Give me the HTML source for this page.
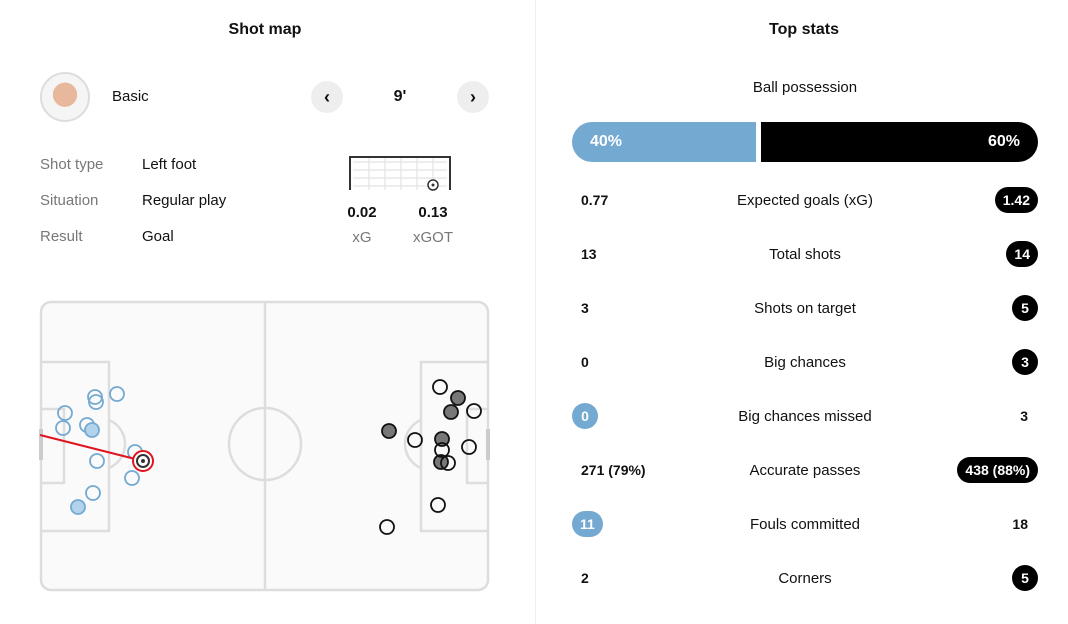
<!DOCTYPE html>
<html><head><meta charset="utf-8"><style>
body{margin:0;width:1068px;height:624px;background:#fff;font-family:"Liberation Sans",sans-serif;color:#111;position:relative;overflow:hidden}
.a{position:absolute;white-space:nowrap}
.t{font-size:16px;font-weight:bold}
.g{color:#777;font-size:15px}
.v{font-size:15px}
.lbl{position:absolute;left:655px;width:300px;text-align:center;font-size:15px}
.lv{position:absolute;left:581px;font-size:14px;font-weight:bold}
.rv{position:absolute;right:30px;font-size:14px;font-weight:bold;text-align:right}
.pill{background:#000;color:#fff;border-radius:14px;height:26px;line-height:26px;padding:0 8px;min-width:10px;text-align:center}
.bp{background:#74a9d1;color:#fff;border-radius:14px;height:26px;line-height:26px;padding:0 8px;text-align:center;min-width:10px}
.nav{position:absolute;width:32px;height:32px;border-radius:16px;background:#eee;text-align:center;line-height:32px;font-weight:bold;font-size:18px}
</style></head><body>
<div class="a" style="left:535px;top:0;width:1px;height:624px;background:#eee"></div>
<div class="a t" style="left:0;width:530px;text-align:center;top:21px">Shot map</div>
<div class="a t" style="left:540px;width:528px;text-align:center;top:21px">Top stats</div>
<div class="a" style="left:40px;top:72px;width:46px;height:46px;border-radius:50%;border:2px solid #ddd;background:radial-gradient(circle at 50% 45%,#e8b89c 0 35%,#f5f5f5 36%)"></div>
<div class="a v" style="left:112px;top:88px">Basic</div>
<div class="nav" style="left:311px;top:81px">‹</div>
<div class="a t" style="left:380px;width:40px;text-align:center;top:88px">9'</div>
<div class="nav" style="left:457px;top:81px">›</div>
<div class="a g" style="left:40px;top:156px">Shot type</div><div class="a v" style="left:142px;top:156px">Left foot</div>
<div class="a g" style="left:40px;top:192px">Situation</div><div class="a v" style="left:142px;top:192px">Regular play</div>
<div class="a g" style="left:40px;top:228px">Result</div><div class="a v" style="left:142px;top:228px">Goal</div>
<svg class="a" style="left:345px;top:152px" width="110" height="42">
<g stroke="#ddd" stroke-width="1" fill="none">
<path d="M8 10H102M8 18H102M8 26H102M8 34H102M24 6V38M40 6V38M56 6V38M72 6V38M88 6V38"/></g>
<path d="M5 38V5H105V38" stroke="#333" stroke-width="2" fill="none"/>
<circle cx="88" cy="33" r="5" fill="#fff" stroke="#333" stroke-width="1.5"/><circle cx="88" cy="33" r="1.5" fill="#333"/>
</svg>
<div class="a t" style="left:332px;width:60px;text-align:center;top:204px;font-size:15px">0.02</div>
<div class="a t" style="left:403px;width:60px;text-align:center;top:204px;font-size:15px">0.13</div>
<div class="a g" style="left:332px;width:60px;text-align:center;top:229px">xG</div>
<div class="a g" style="left:403px;width:60px;text-align:center;top:229px">xGOT</div>
<svg class="a" style="left:0;top:0" width="535" height="624">
<rect x="41" y="302" width="447" height="288" rx="10" fill="#fafafa" stroke="#ddd" stroke-width="2.5"/>
<g stroke="#ddd" stroke-width="2.5" fill="none">
<line x1="265" y1="302" x2="265" y2="590"/>
<circle cx="265" cy="444" r="36"/>
<path d="M41 362H109V531H41M41 409H64V483H41"/>
<path d="M109 420A26 26 0 0 1 109 468"/>
<path d="M488 362H421V531H488M488 409H467V483H488"/>
<path d="M421 420A26 26 0 0 0 421 468"/>
</g>
<rect x="39" y="429" width="4" height="31" fill="#ccc"/><rect x="486" y="429" width="4" height="31" fill="#ccc"/>
<g fill="none" stroke="#74a9d1" stroke-width="1.8">
<circle cx="95" cy="397" r="7"/><circle cx="96" cy="402" r="7"/><circle cx="117" cy="394" r="7"/><circle cx="65" cy="413" r="7"/><circle cx="63" cy="428" r="7"/><circle cx="87" cy="425" r="7"/><circle cx="97" cy="461" r="7"/><circle cx="135" cy="452" r="7"/><circle cx="132" cy="478" r="7"/><circle cx="93" cy="493" r="7"/>
<circle cx="92" cy="430" r="7" fill="#b3d3ec"/><circle cx="78" cy="507" r="7" fill="#b3d3ec"/>
</g>
<line x1="40" y1="435" x2="143" y2="461" stroke="#e0141e" stroke-width="2"/>
<circle cx="143" cy="461" r="10" fill="#fff" stroke="#e0141e" stroke-width="2"/>
<circle cx="143" cy="461" r="6" fill="#fff" stroke="#333" stroke-width="2"/><circle cx="143" cy="461" r="2" fill="#333"/>
<g stroke="#111" stroke-width="1.8" fill="none">
<circle cx="440" cy="387" r="7"/><circle cx="474" cy="411" r="7"/><circle cx="415" cy="440" r="7"/><circle cx="469" cy="447" r="7"/><circle cx="438" cy="505" r="7"/><circle cx="387" cy="527" r="7"/>
<g fill="#777"><circle cx="458" cy="398" r="7"/><circle cx="451" cy="412" r="7"/><circle cx="389" cy="431" r="7"/><circle cx="442" cy="439" r="7"/><circle cx="441" cy="462" r="7"/></g>
<circle cx="442" cy="450" r="7"/><circle cx="448" cy="463" r="7"/>
</g>
</svg>
<div class="lbl" style="top:79px">Ball possession</div>
<div class="a" style="left:572px;top:122px;width:184px;height:40px;background:#74a9d1;border-radius:20px 0 0 20px;color:#fff;font-weight:bold;font-size:16px;line-height:40px;text-indent:18px">40%</div>
<div class="a" style="left:761px;top:122px;width:277px;height:40px;background:#000;border-radius:0 20px 20px 0;color:#fff;font-weight:bold;font-size:16px;line-height:40px;text-align:right;box-sizing:border-box;padding-right:18px">60%</div>

<div class="lv" style="top:192px">0.77</div><div class="lbl" style="top:192px">Expected goals (xG)</div><div class="rv pill" style="top:187px">1.42</div>
<div class="lv" style="top:246px">13</div><div class="lbl" style="top:246px">Total shots</div><div class="rv pill" style="top:241px">14</div>
<div class="lv" style="top:300px">3</div><div class="lbl" style="top:300px">Shots on target</div><div class="rv pill" style="top:295px">5</div>
<div class="lv" style="top:354px">0</div><div class="lbl" style="top:354px">Big chances</div><div class="rv pill" style="top:349px">3</div>
<div class="lv bp" style="left:572px;top:403px">0</div><div class="lbl" style="top:408px">Big chances missed</div><div class="rv" style="top:408px;right:40px">3</div>
<div class="lv" style="top:462px">271 (79%)</div><div class="lbl" style="top:462px">Accurate passes</div><div class="rv pill" style="top:457px">438 (88%)</div>
<div class="lv bp" style="left:572px;top:511px">11</div><div class="lbl" style="top:516px">Fouls committed</div><div class="rv" style="top:516px;right:40px">18</div>
<div class="lv" style="top:570px">2</div><div class="lbl" style="top:570px">Corners</div><div class="rv pill" style="top:565px">5</div>
</body></html>
